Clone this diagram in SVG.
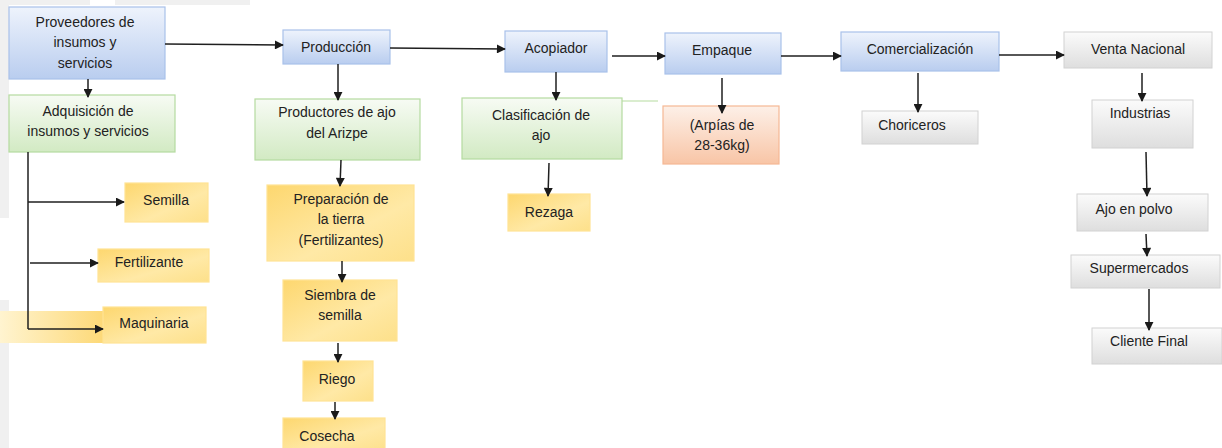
<svg xmlns="http://www.w3.org/2000/svg" width="1222" height="448" viewBox="0 0 1222 448">
  <defs>
    <linearGradient id="gBlue" x1="0" y1="0" x2="0" y2="1">
      <stop offset="0" stop-color="#eef3fc"/>
      <stop offset="1" stop-color="#b9cdef"/>
    </linearGradient>
    <linearGradient id="gGreen" x1="0" y1="0" x2="0" y2="1">
      <stop offset="0" stop-color="#f7fbf4"/>
      <stop offset="1" stop-color="#d2eac3"/>
    </linearGradient>
    <linearGradient id="gYellow" x1="0" y1="0" x2="1" y2="1">
      <stop offset="0" stop-color="#fdd76f"/>
      <stop offset="0.6" stop-color="#ffe9a6"/>
      <stop offset="1" stop-color="#fde08a"/>
    </linearGradient>
    <linearGradient id="gYellowFade" x1="0" y1="0" x2="1" y2="0">
      <stop offset="0" stop-color="#fff4d0"/>
      <stop offset="1" stop-color="#fdd875"/>
    </linearGradient>
    <linearGradient id="gOrange" x1="0" y1="0" x2="0" y2="1">
      <stop offset="0" stop-color="#fdf0e8"/>
      <stop offset="1" stop-color="#f8c5a6"/>
    </linearGradient>
    <linearGradient id="gGray" x1="0" y1="0" x2="0" y2="1">
      <stop offset="0" stop-color="#fbfbfb"/>
      <stop offset="1" stop-color="#dedede"/>
    </linearGradient>
    <marker id="arrow" viewBox="0 0 10 10" refX="9" refY="5" markerWidth="6.5" markerHeight="6" orient="auto" markerUnits="strokeWidth">
      <path d="M0,0 L10,5 L0,10 z" fill="#1a1a1a"/>
    </marker>
    <style>
      .blue { fill: url(#gBlue); stroke: #a9c1ea; stroke-width: 1.2; }
      .green { fill: url(#gGreen); stroke: #b5dba0; stroke-width: 1.2; }
      .yellow { fill: url(#gYellow); stroke: #ffe394; stroke-width: 1.2; }
      .orange { fill: url(#gOrange); stroke: #f6b894; stroke-width: 1.2; }
      .gray { fill: url(#gGray); stroke: #d2d2d2; stroke-width: 1; }
      text { font-family: "Liberation Sans", Arial, sans-serif; font-size: 14px; fill: #222222; text-anchor: middle; }
      .conn line, .conn path { stroke: #1f1f1f; stroke-width: 1.5; fill: none; }
    </style>
  </defs>

  <!-- page background -->
  <rect x="0" y="0" width="1222" height="448" fill="#ffffff"/>
  <rect x="0" y="0" width="90" height="5" fill="#f0f0f0"/>
  <rect x="115" y="0" width="135" height="5" fill="#f0f0f0"/>
  <rect x="0" y="0" width="9" height="218" fill="#f0f0f0"/>
  <rect x="0" y="300" width="9" height="148" fill="#f0f0f0"/>

  <!-- left column: suppliers -->
  <g id="proveedores">
    <rect class="blue" x="9" y="7" width="156" height="72"/>
    <text x="85" y="27">Proveedores de</text>
    <text x="85" y="47">insumos y</text>
    <text x="85" y="68">servicios</text>
  </g>
  <g id="adquisicion">
    <rect class="green" x="9" y="95" width="166" height="57"/>
    <text x="88" y="116">Adquisición de</text>
    <text x="88" y="136">insumos y servicios</text>
  </g>
  <g id="semilla">
    <rect class="yellow" x="125" y="183" width="83" height="39"/>
    <text x="166" y="205">Semilla</text>
  </g>
  <g id="fertilizante">
    <rect class="yellow" x="98" y="249" width="111" height="33"/>
    <text x="149" y="267">Fertilizante</text>
  </g>
  <g id="maquinaria">
    <rect x="0" y="311" width="106" height="32" fill="url(#gYellowFade)"/>
    <rect class="yellow" x="103" y="307" width="103" height="36"/>
    <text x="154" y="328">Maquinaria</text>
  </g>

  <!-- production column -->
  <g id="produccion">
    <rect class="blue" x="283" y="30" width="107" height="34"/>
    <text x="336" y="52">Producción</text>
  </g>
  <g id="productores">
    <rect class="green" x="255" y="99" width="165" height="61"/>
    <text x="337" y="117">Productores de ajo</text>
    <text x="337" y="138">del Arizpe</text>
  </g>
  <g id="preparacion">
    <rect class="yellow" x="267" y="185" width="147" height="76"/>
    <text x="341" y="204">Preparación de</text>
    <text x="341" y="224">la tierra</text>
    <text x="341" y="245">(Fertilizantes)</text>
  </g>
  <g id="siembra">
    <rect class="yellow" x="283" y="280" width="114" height="61"/>
    <text x="340" y="300">Siembra de</text>
    <text x="340" y="320">semilla</text>
  </g>
  <g id="riego">
    <rect class="yellow" x="303" y="361" width="70" height="40"/>
    <text x="337" y="384">Riego</text>
  </g>
  <g id="cosecha">
    <rect class="yellow" x="283" y="418" width="102" height="34"/>
    <text x="327" y="441">Cosecha</text>
  </g>

  <!-- collector column -->
  <g id="acopiador">
    <rect class="blue" x="505" y="31" width="102" height="41"/>
    <text x="556" y="53">Acopiador</text>
  </g>
  <g id="clasificacion">
    <rect class="green" x="462" y="98" width="160" height="61"/>
    <line x1="622" y1="101" x2="658" y2="101" stroke="#b5dba0" stroke-width="1.2"/>
    <text x="541" y="120">Clasificación de</text>
    <text x="541" y="140">ajo</text>
  </g>
  <g id="rezaga">
    <rect class="yellow" x="508" y="194" width="82" height="37"/>
    <text x="549" y="217">Rezaga</text>
  </g>

  <!-- packing column -->
  <g id="empaque">
    <rect class="blue" x="665" y="33" width="116" height="41"/>
    <text x="722" y="55">Empaque</text>
  </g>
  <g id="arpias">
    <rect class="orange" x="663" y="106" width="116" height="58"/>
    <text x="722" y="130">(Arpías de</text>
    <text x="722" y="150">28-36kg)</text>
  </g>

  <!-- marketing column -->
  <g id="comercializacion">
    <rect class="blue" x="841" y="32" width="158" height="39"/>
    <text x="920" y="54">Comercialización</text>
  </g>
  <g id="choriceros">
    <rect class="gray" x="862" y="111" width="116" height="33"/>
    <text x="912" y="130">Choriceros</text>
  </g>

  <!-- national sales column -->
  <g id="venta-nacional">
    <rect class="gray" x="1064" y="32" width="148" height="36"/>
    <text x="1138" y="54">Venta Nacional</text>
  </g>
  <g id="industrias">
    <rect class="gray" x="1092" y="100" width="101" height="48"/>
    <text x="1140" y="118">Industrias</text>
  </g>
  <g id="ajo-en-polvo">
    <rect class="gray" x="1077" y="194" width="131" height="37"/>
    <text x="1134" y="214">Ajo en polvo</text>
  </g>
  <g id="supermercados">
    <rect class="gray" x="1071" y="255" width="149" height="33"/>
    <text x="1139" y="273">Supermercados</text>
  </g>
  <g id="cliente-final">
    <rect class="gray" x="1092" y="328" width="130" height="36"/>
    <text x="1149" y="346">Cliente Final</text>
  </g>

  <!-- connectors -->
  <g class="conn">
    <line x1="165" y1="44" x2="283" y2="45" marker-end="url(#arrow)"/>
    <line x1="390" y1="48" x2="505" y2="49" marker-end="url(#arrow)"/>
    <line x1="612" y1="56" x2="665" y2="56" marker-end="url(#arrow)"/>
    <line x1="781" y1="56" x2="841" y2="56" marker-end="url(#arrow)"/>
    <line x1="999" y1="55" x2="1064" y2="55" marker-end="url(#arrow)"/>

    <line x1="88" y1="79" x2="88" y2="97" marker-end="url(#arrow)"/>
    <path d="M28,152 V329"/>
    <line x1="28" y1="202" x2="124" y2="202" marker-end="url(#arrow)"/>
    <line x1="30" y1="263" x2="98" y2="263" marker-end="url(#arrow)"/>
    <line x1="28" y1="329" x2="103" y2="329" marker-end="url(#arrow)"/>

    <line x1="338" y1="64" x2="338" y2="100" marker-end="url(#arrow)"/>
    <line x1="341" y1="160" x2="340" y2="186" marker-end="url(#arrow)"/>
    <line x1="342" y1="261" x2="342" y2="282" marker-end="url(#arrow)"/>
    <line x1="338" y1="343" x2="338" y2="362" marker-end="url(#arrow)"/>
    <line x1="335" y1="402" x2="335" y2="419" marker-end="url(#arrow)"/>

    <line x1="556" y1="72" x2="556" y2="100" marker-end="url(#arrow)"/>
    <line x1="549" y1="163" x2="548" y2="196" marker-end="url(#arrow)"/>
    <line x1="722" y1="78" x2="722" y2="113" marker-end="url(#arrow)"/>
    <line x1="918" y1="73" x2="918" y2="112" marker-end="url(#arrow)"/>

    <line x1="1142" y1="73" x2="1142" y2="101" marker-end="url(#arrow)"/>
    <line x1="1146" y1="152" x2="1147" y2="196" marker-end="url(#arrow)"/>
    <line x1="1146" y1="234" x2="1147" y2="256" marker-end="url(#arrow)"/>
    <line x1="1149" y1="289" x2="1149" y2="330" marker-end="url(#arrow)"/>
  </g>
</svg>
